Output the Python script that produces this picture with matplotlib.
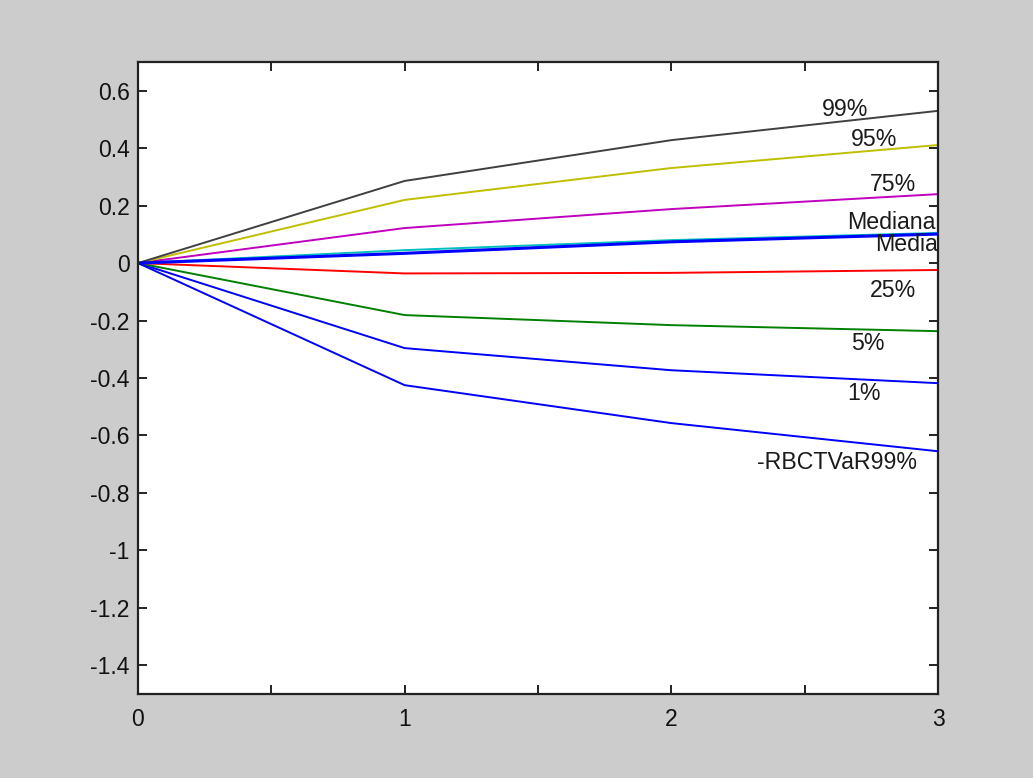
import matplotlib
matplotlib.use("Agg")
import matplotlib.pyplot as plt
from matplotlib.ticker import MultipleLocator

plt.rcParams['font.family'] = ['Liberation Sans', 'DejaVu Sans']

# Horizon (periods)
periods = [0, 1, 2, 3]

# Percentile paths of cumulative return
p01 = [0, -0.296, -0.373, -0.418]
p05 = [0, -0.181, -0.216, -0.237]
p25 = [0, -0.036, -0.034, -0.024]
mediana = [0, 0.045, 0.080, 0.105]
p75 = [0, 0.122, 0.188, 0.240]
p95 = [0, 0.220, 0.331, 0.411]
p99 = [0, 0.286, 0.428, 0.530]
media = [0, 0.034, 0.074, 0.101]
rbctvar99 = [0, -0.425, -0.557, -0.655]

series = [p01, p05, p25, mediana, p75, p95, p99, media, rbctvar99]
colors = ['#0000ff', '#008000', '#ff0000', '#00bfbf', '#bf00bf',
          '#bfbf00', '#404040', '#0000ff', '#0000ff']
widths = [1.4, 1.4, 1.4, 1.4, 1.4, 1.4, 1.4, 2.2, 1.4]

# Text labels at the right end of each path
label_text = ['99%', '95%', '75%', 'Mediana', 'Media', '25%', '5%', '1%', '-RBCTVaR99%']
label_x = [2.565, 2.673, 2.745, 2.658, 2.763, 2.745, 2.673, 2.658, 2.321]
label_y = [0.533, 0.429, 0.275, 0.143, 0.066, -0.094, -0.279, -0.453, -0.693]

yticks = [-1.4, -1.2, -1.0, -0.8, -0.6, -0.4, -0.2, 0, 0.2, 0.4, 0.6]
ytick_labels = ['-1.4', '-1.2', '-1', '-0.8', '-0.6', '-0.4', '-0.2', '0', '0.2', '0.4', '0.6']
xticks = [0, 1, 2, 3]
xtick_labels = ['0', '1', '2', '3']

fig = plt.figure(figsize=(10.33, 7.78), dpi=100, facecolor='#cccccc')
ax = fig.add_axes([138 / 1033, 84 / 778, 800 / 1033, 632 / 778])
ax.set_facecolor('white')

for ys, c, lw in zip(series, colors, widths):
    ax.plot(periods, ys, color=c, lw=lw, solid_joinstyle='miter')

for t, x, y in zip(label_text, label_x, label_y):
    ax.text(x, y, t, fontsize=16.7, ha='left', va='center', color='#1a1a1a')

ax.set_xlim(0, 3)
ax.set_ylim(-1.5, 0.7)
ax.set_xticks(xticks)
ax.set_xticklabels(xtick_labels)
ax.xaxis.set_minor_locator(MultipleLocator(0.5))
ax.set_yticks(yticks)
ax.set_yticklabels(ytick_labels)

ax.tick_params(which='both', direction='in', top=True, right=True,
               length=6.5, width=1.4, color='#222222', labelsize=16.5, labelcolor='#111111')
ax.tick_params(axis='x', pad=10)
ax.tick_params(axis='y', pad=6)
for s in ax.spines.values():
    s.set_linewidth(1.6)
    s.set_color('#222222')

fig.savefig('out.png', dpi=100, facecolor=fig.get_facecolor())
